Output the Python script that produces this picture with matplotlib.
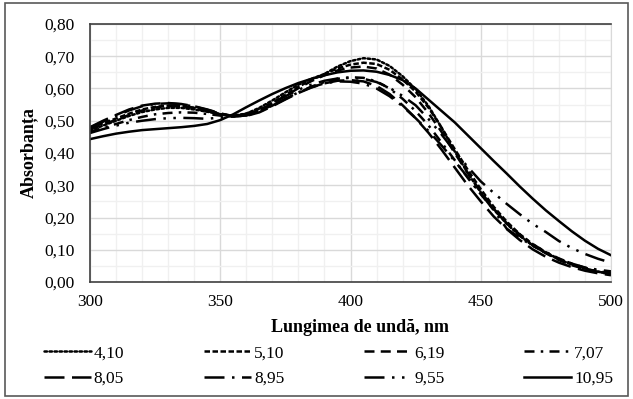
import matplotlib
matplotlib.use("Agg")
import matplotlib.pyplot as plt
from matplotlib.ticker import MultipleLocator, FuncFormatter
from matplotlib.patches import Rectangle

wavelength = list(range(300, 505, 5))

ph_labels = ["4,10", "5,10", "6,19", "7,07", "8,05", "8,95", "9,55", "10,95"]

abs_410 = [.470,.485,.500,.515,.527,.535,.540,.540,.535,.528,.520,.516,.522,.540,.563,.588,.612,.630,.645,.668,.685,.694,.690,.670,.638,.598,.545,.478,.405,.338,.278,.225,.180,.143,.113,.090,.070,.054,.042,.032,.025]
abs_510 = [.478,.492,.507,.522,.535,.543,.547,.546,.540,.530,.520,.514,.518,.533,.555,.580,.605,.627,.645,.662,.674,.680,.676,.658,.628,.590,.540,.478,.412,.348,.288,.233,.187,.148,.117,.092,.071,.055,.042,.032,.025]
abs_619 = [.475,.488,.503,.518,.532,.541,.546,.546,.540,.530,.520,.514,.518,.532,.553,.577,.601,.623,.641,.656,.665,.668,.662,.643,.612,.573,.523,.465,.400,.338,.280,.227,.182,.144,.113,.089,.068,.052,.040,.031,.024]
abs_707 = [.465,.478,.490,.502,.512,.520,.524,.526,.525,.521,.516,.513,.518,.530,.548,.568,.588,.606,.620,.630,.635,.633,.622,.600,.568,.530,.485,.432,.378,.323,.272,.225,.183,.147,.117,.093,.073,.057,.044,.034,.027]
abs_805 = [.480,.500,.518,.535,.547,.553,.555,.552,.545,.535,.523,.514,.515,.526,.545,.566,.586,.603,.616,.624,.626,.622,.608,.583,.548,.508,.462,.410,.355,.300,.250,.203,.164,.130,.101,.078,.060,.046,.035,.027,.021]
abs_895 = [.478,.497,.515,.532,.545,.552,.554,.551,.544,.534,.522,.514,.516,.528,.547,.568,.588,.604,.616,.622,.621,.615,.600,.576,.545,.508,.468,.423,.375,.325,.275,.222,.165,.137,.112,.091,.072,.057,.045,.038,.033]
abs_955 = [.462,.474,.485,.494,.500,.505,.508,.509,.508,.506,.510,.513,.522,.537,.556,.576,.596,.612,.624,.631,.633,.630,.620,.602,.577,.548,.505,.457,.405,.357,.312,.276,.242,.210,.180,.155,.127,.105,.087,.072,.060]
abs_1095 = [.443,.452,.460,.466,.471,.474,.477,.480,.484,.490,.502,.520,.542,.563,.583,.601,.617,.630,.641,.650,.655,.656,.652,.642,.626,.600,.565,.530,.495,.455,.415,.375,.336,.296,.258,.222,.189,.157,.128,.103,.083]

series = [abs_410, abs_510, abs_619, abs_707, abs_805, abs_895, abs_955, abs_1095]

styles = [
    (0, (1, 1)),
    (0, (2.2, 1)),
    (0, (4, 2.5)),
    (0, (4, 2.5, 1, 2.5)),
    (0, (8, 3)),
    (0, (8, 3, 1, 3)),
    (0, (8, 3, 1, 3, 1, 3)),
    "solid",
]

plt.rcParams['font.family'] = ['Liberation Serif', 'DejaVu Serif']

W, H = 633, 399
fig = plt.figure(figsize=(W/100, H/100), dpi=100)
ax = fig.add_axes([90/W, 1-282/H, (611-90)/W, (282-24)/H])

for vals, ls, lab in zip(series, styles, ph_labels):
    cap = 'round' if lab == "4,10" else 'butt'
    ax.plot(wavelength, vals, color='black', lw=1.8, linestyle=ls, label=lab,
            dash_capstyle=cap)

ax.set_xlim(300, 500)
ax.set_ylim(0, 0.8)
ax.xaxis.set_major_locator(MultipleLocator(50))
ax.xaxis.set_minor_locator(MultipleLocator(10))
ax.yaxis.set_major_locator(MultipleLocator(0.1))
ax.yaxis.set_minor_locator(MultipleLocator(0.05))
ax.yaxis.set_major_formatter(FuncFormatter(lambda v, p: f"{v:.2f}".replace('.', ',')))
ax.grid(which='major', color='#d9d9d9', lw=1.0)
ax.grid(which='minor', color='#f0f0f0', lw=1.0)
ax.set_axisbelow(True)
ax.tick_params(which='both', length=0, labelsize=12.5)
ax.tick_params(axis='y', pad=11)
ax.tick_params(axis='x', pad=9)
for s in ['left', 'bottom', 'top']:
    ax.spines[s].set_color('#404040')
    ax.spines[s].set_linewidth(1.2)
ax.spines['right'].set_color('#d9d9d9')

fig.text(360/W, 1-327/H, "Lungimea de undă, nm", fontsize=13, fontweight='bold',
         ha='center', va='center')
fig.text(29/W, 1-153/H, "Absorbanța", fontsize=13, fontweight='bold',
         ha='center', va='center', rotation=90)

handles, labels = ax.get_legend_handles_labels()
order = [0, 4, 1, 5, 2, 6, 3, 7]
fig.legend([handles[i] for i in order], [labels[i] for i in order],
           loc='upper left', bbox_to_anchor=(44/W, 1-345/H), ncol=4, frameon=False,
           fontsize=12.5, handlelength=2.7, handletextpad=0.17, columnspacing=4.6,
           labelspacing=0.55, borderpad=0, borderaxespad=0)

fig.add_artist(Rectangle((5/W, 3/H), 623/W, 393/H, transform=fig.transFigure,
                         fill=False, edgecolor='#595959', lw=1.2))

fig.savefig("out.png", dpi=100)
